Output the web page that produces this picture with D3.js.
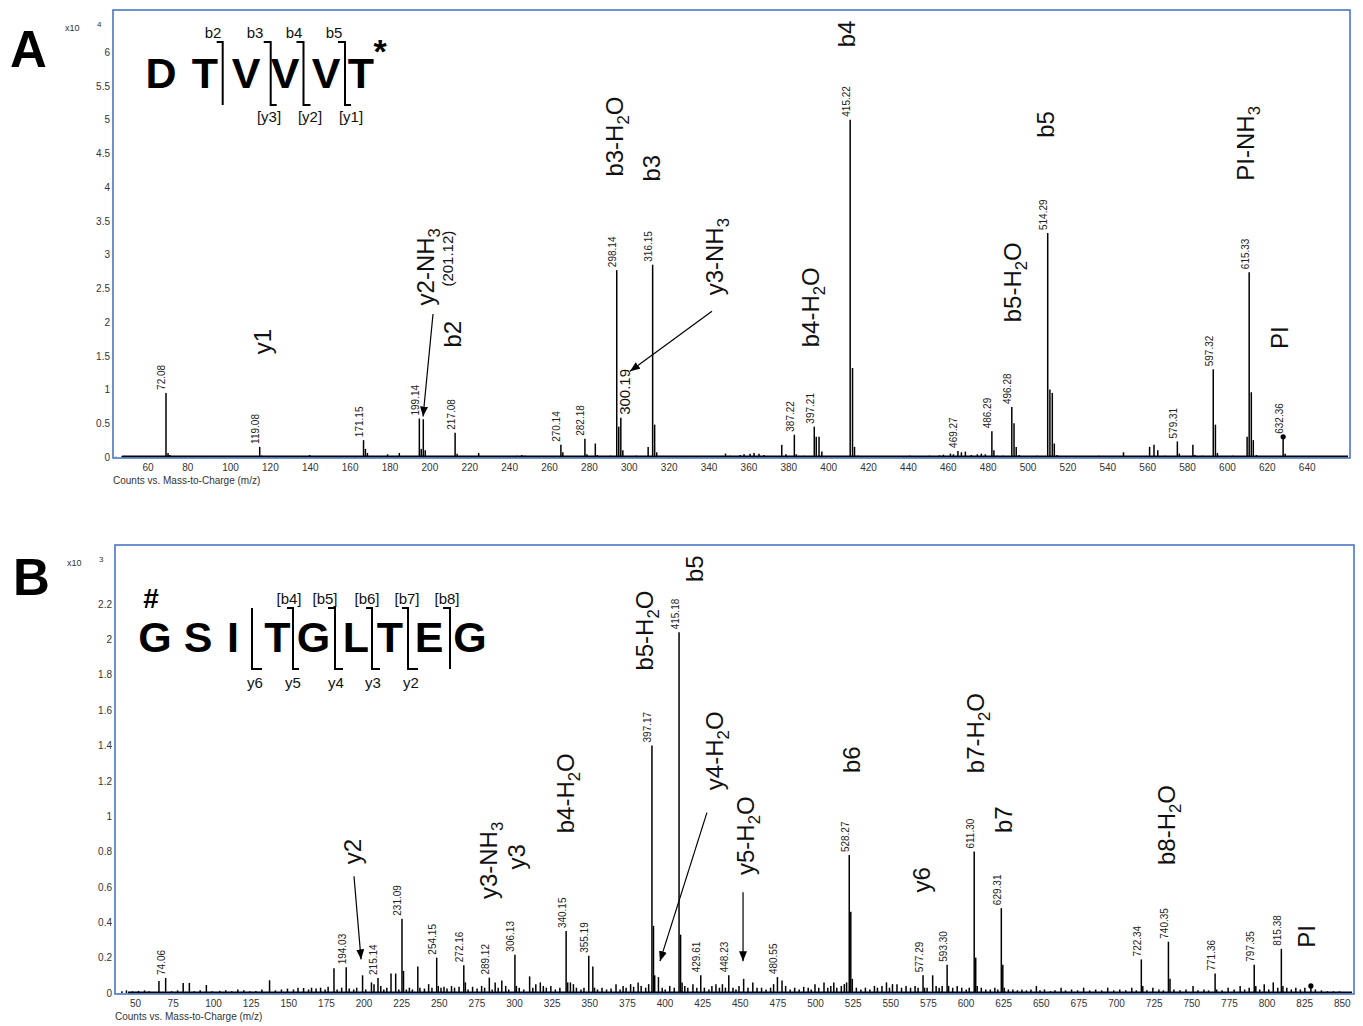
<!DOCTYPE html>
<html><head><meta charset="utf-8">
<script src="https://cdn.jsdelivr.net/npm/d3@7"></script>
<style>
body{margin:0;background:#fff}
svg{display:block}
text{font-family:"Liberation Sans",Arial,sans-serif}
</style>
</head><body>
<svg id="c" width="1363" height="1026"></svg>
<script>
// ---------------- DATA ----------------
// Panel A: peaks [m/z, counts x10^4]
const peaksA = [[47,0.005],[50,0.01],[53,0.008],[56,0.01],[59,0.008],[63,0.01],[66,0.008],[70,0.01],[72.08,0.95],[73.1,0.06],[74,0.03],[78,0.01],[85,0.008],[92,0.01],[100,0.008],[108,0.01],[114,0.008],[119.08,0.15],[120.1,0.02],[126,0.01],[133,0.008],[138,0.01],[144.1,0.03],[150,0.01],[156,0.01],[162,0.01],[171.15,0.25],[172.1,0.12],[173.1,0.06],[178,0.015],[183.2,0.04],[186,0.01],[189.1,0.06],[193,0.01],[199.14,0.57],[200.1,0.12],[201.12,0.56],[202.1,0.10],[205,0.01],[209,0.015],[214,0.01],[217.08,0.36],[218.1,0.05],[222,0.01],[228.9,0.06],[235,0.01],[242,0.01],[248,0.02],[250.5,0.03],[252,0.02],[258,0.01],[264,0.015],[270.14,0.18],[271.1,0.07],[275,0.015],[279,0.01],[282.18,0.27],[283.2,0.04],[287.4,0.20],[288.4,0.03],[292,0.015],[295,0.02],[298.14,2.77],[299.15,0.45],[300.19,0.58],[301.2,0.10],[304,0.015],[308,0.02],[313.9,0.15],[316.15,2.85],[317.15,0.48],[318.2,0.07],[322,0.01],[328,0.01],[335,0.01],[342,0.01],[348,0.01],[352.7,0.05],[355,0.02],[360,0.03],[362,0.04],[365,0.05],[367,0.06],[369.5,0.05],[372,0.03],[376,0.01],[380.9,0.18],[383,0.04],[387.22,0.33],[388.2,0.04],[392,0.02],[397.21,0.45],[398.2,0.30],[399.6,0.30],[401,0.08],[405,0.01],[408,0.015],[415.22,5.00],[416.4,1.32],[417.4,0.15],[419,0.02],[425,0.01],[432,0.01],[440,0.015],[445,0.02],[450,0.015],[455,0.02],[460,0.025],[462,0.035],[465.5,0.05],[467,0.04],[469.27,0.09],[471,0.07],[473,0.08],[476,0.03],[479,0.04],[481,0.05],[483,0.04],[486.29,0.38],[487.3,0.10],[489,0.02],[492,0.02],[496.28,0.74],[497.4,0.50],[498.5,0.15],[500,0.03],[504,0.01],[509,0.02],[514.29,3.32],[515.4,1.00],[516.6,0.95],[517.6,0.20],[519,0.03],[524,0.01],[530,0.01],[536,0.01],[540,0.02],[545,0.01],[552.3,0.07],[555,0.01],[560,0.01],[565.4,0.15],[567.6,0.18],[569.5,0.10],[573,0.02],[579.31,0.23],[580.3,0.05],[583,0.01],[587.1,0.18],[588.1,0.03],[592,0.02],[597.32,1.30],[598.4,0.48],[599.4,0.06],[603,0.01],[607,0.02],[614.3,0.30],[615.33,2.74],[616.4,0.96],[617.4,0.25],[619,0.03],[624,0.01],[632.36,0.30],[633.4,0.05],[637,0.01],[642,0.008],[648,0.008],[655,0.008],[660,0.008]];
const labelsA = [72.08,119.08,171.15,199.14,217.08,270.14,282.18,298.14,316.15,387.22,397.21,415.22,469.27,486.29,496.28,514.29,579.31,597.32,615.33,632.36];
const bigLabelA = [300.19];
const dotA = [632.36];
const xTicksA = [60,80,100,120,140,160,180,200,220,240,260,280,300,320,340,360,380,400,420,440,460,480,500,520,540,560,580,600,620,640];
const yTicksA = [0,0.5,1,1.5,2,2.5,3,3.5,4,4.5,5,5.5,6];
const annA = [
  {t:"y1",m:120.3,v:1.71},{t:"y2-NH_3",m:202.0,v:2.82},{t:"b2",m:215.5,v:1.82},
  {t:"b3-H_2O",m:296.8,v:4.75},{t:"b3",m:315.4,v:4.28},{t:"y3-NH_3",m:347.0,v:2.97},
  {t:"b4-H_2O",m:395.1,v:2.22},{t:"b4",m:413.2,v:6.27},{t:"b5-H_2O",m:496.4,v:2.59},
  {t:"b5",m:513.0,v:4.93},{t:"PI-NH_3",m:613.2,v:4.65},{t:"PI",m:630.3,v:1.77}];
const smallAnnA = [{t:"(201.12)",m:213.5,v:2.94}];
const arrowsA = [[206.0,2.12,201.0,0.60],[345.9,2.16,304.8,1.27]];
const seqA = ["D","T","V","V","V","T"];
const bA = ["b2","b3","b4","b5"];
const yA = ["[y3]","[y2]","[y1]"];

// Panel B: peaks [m/z, counts x10^3]
const peaksB = [[45,0.01],[48,0.015],[52,0.01],[56,0.012],[60,0.015],[63,0.01],[69.6,0.068],[74.06,0.085],[78,0.01],[82,0.015],[85.7,0.057],[89.8,0.057],[93,0.01],[97,0.015],[101.1,0.045],[105,0.01],[110,0.012],[114,0.015],[118,0.01],[122,0.02],[126,0.015],[130,0.01],[134,0.012],[138,0.02],[143.1,0.072],[147,0.015],[151,0.02],[155,0.025],[159,0.02],[162,0.03],[165.7,0.028],[169,0.02],[171,0.03],[174,0.025],[177,0.03],[180,0.02],[182,0.035],[185.9,0.14],[188,0.02],[191,0.03],[194.03,0.145],[196,0.025],[199,0.02],[201,0.03],[204.9,0.10],[207,0.02],[210.8,0.06],[212.5,0.05],[215.14,0.085],[217,0.04],[219,0.02],[221,0.03],[223.8,0.11],[226.9,0.11],[229,0.02],[231.09,0.42],[232.1,0.125],[234,0.02],[236,0.03],[238,0.02],[241.6,0.15],[243,0.03],[246,0.025],[248.8,0.05],[251,0.03],[254.15,0.20],[255.2,0.04],[257,0.03],[259,0.035],[261,0.025],[264,0.04],[266,0.03],[269,0.035],[272.16,0.157],[273.2,0.06],[275,0.02],[278,0.035],[281,0.025],[284,0.04],[286,0.03],[289.12,0.087],[291,0.02],[293,0.06],[295,0.03],[297.4,0.07],[300,0.04],[302,0.02],[306.13,0.217],[307.1,0.04],[309,0.03],[312,0.02],[315.9,0.094],[318,0.03],[320,0.05],[323,0.06],[325,0.04],[327,0.03],[330,0.04],[333,0.02],[336,0.03],[340.15,0.35],[341.2,0.06],[343,0.06],[345,0.05],[347,0.03],[350,0.02],[352,0.03],[355.19,0.21],[357.9,0.15],[359,0.03],[361,0.02],[364,0.03],[367,0.02],[370,0.025],[373.3,0.05],[376,0.02],[378,0.04],[380,0.03],[383,0.05],[385,0.035],[388,0.06],[390,0.04],[393,0.03],[395,0.05],[397.17,1.40],[398.2,0.38],[399,0.10],[401.5,0.09],[404,0.03],[406,0.02],[409,0.04],[412,0.03],[415.18,2.04],[416.2,0.33],[417.2,0.06],[419,0.04],[421,0.03],[424.4,0.05],[427,0.03],[429.61,0.10],[432,0.03],[435,0.02],[437,0.04],[439.7,0.05],[442,0.03],[444,0.05],[446,0.03],[448.23,0.10],[451,0.03],[453,0.02],[455,0.04],[458.1,0.08],[461,0.03],[464.2,0.06],[467,0.03],[470,0.03],[473,0.02],[476,0.03],[478,0.05],[480.55,0.09],[483.6,0.07],[486,0.04],[489,0.02],[492,0.03],[495,0.02],[498,0.035],[501,0.03],[503,0.02],[505.5,0.05],[508,0.03],[511.5,0.06],[514,0.03],[516,0.04],[518,0.06],[520,0.03],[523,0.04],[525,0.05],[526.5,0.06],[528.27,0.78],[529.3,0.46],[530.3,0.08],[533,0.03],[536,0.02],[539,0.03],[542,0.02],[545,0.04],[547,0.03],[550,0.04],[553,0.06],[555,0.03],[557,0.05],[560,0.05],[563,0.03],[566,0.04],[569,0.03],[572,0.04],[574,0.03],[577.29,0.10],[578.3,0.03],[580,0.03],[583.7,0.10],[586,0.04],[588,0.03],[590,0.04],[593.30,0.16],[594.3,0.04],[597,0.03],[600,0.04],[603,0.03],[606,0.02],[608,0.03],[611.30,0.80],[612.3,0.20],[613.3,0.04],[616,0.03],[619,0.02],[622,0.02],[625,0.03],[627,0.02],[629.31,0.48],[630.3,0.16],[631.3,0.03],[634,0.02],[637,0.02],[640,0.015],[643,0.02],[646,0.015],[649,0.02],[652.6,0.04],[655,0.015],[658,0.02],[662,0.01],[665,0.015],[669,0.03],[672,0.015],[676,0.02],[680,0.015],[684,0.03],[688,0.015],[692,0.02],[696,0.015],[700,0.03],[704,0.015],[708,0.02],[712,0.015],[716,0.03],[719,0.015],[722.34,0.19],[723.3,0.04],[726,0.015],[730,0.03],[734,0.02],[737,0.015],[740.35,0.29],[741.4,0.08],[744,0.02],[748,0.015],[752,0.02],[756.7,0.04],[760,0.015],[764,0.02],[767,0.015],[771.36,0.11],[772.4,0.02],[776,0.015],[780,0.03],[784,0.02],[788,0.04],[791,0.02],[794,0.03],[797.35,0.16],[798.4,0.04],[801,0.02],[804,0.05],[807,0.02],[810,0.06],[813,0.03],[815.38,0.25],[816.4,0.04],[819,0.03],[822,0.02],[825,0.03],[828,0.02],[831,0.03],[835,0.04],[838,0.02],[842,0.015],[846,0.01],[850,0.01],[854,0.01]];
const labelsB = [74.06,194.03,215.14,231.09,254.15,272.16,289.12,306.13,340.15,355.19,397.17,415.18,429.61,448.23,480.55,528.27,577.29,593.30,611.30,629.31,722.34,740.35,771.36,797.35,815.38];
const dotB = [835];
const xTicksB = [50,75,100,125,150,175,200,225,250,275,300,325,350,375,400,425,450,475,500,525,550,575,600,625,650,675,700,725,750,775,800,825,850];
const yTicksB = [0,0.2,0.4,0.6,0.8,1,1.2,1.4,1.6,1.8,2,2.2];
const annB = [
  {t:"y2",m:197.9,v:0.80},{t:"y3-NH_3",m:288.2,v:0.75},{t:"y3",m:306.8,v:0.77},
  {t:"b4-H_2O",m:339.4,v:1.13},{t:"b5-H_2O",m:391.9,v:2.05},{t:"b5",m:425.1,v:2.40},
  {t:"y4-H_2O",m:438.4,v:1.37},{t:"y5-H_2O",m:459.0,v:0.89},{t:"b6",m:529.4,v:1.32},
  {t:"y6",m:575.9,v:0.64},{t:"b7-H_2O",m:611.8,v:1.47},{t:"b7",m:630.4,v:0.98},
  {t:"b8-H_2O",m:738.7,v:0.95},{t:"PI",m:831.7,v:0.32}];
const arrowsB = [[199.2,0.66,203.9,0.19],[433.7,1.02,402.5,0.18],[457.7,0.57,457.7,0.18]];
const seqB = ["G","S","I","T","G","L","T","E","G"];
const bB = ["[b4]","[b5]","[b6]","[b7]","[b8]"];
const yB = ["y6","y5","y4","y3","y2"];

// ---------------- DRAW ----------------
const svg = d3.select("#c");
const FONT = "'Liberation Sans', Arial, sans-serif";
svg.append("defs").append("marker").attr("id","arr").attr("viewBox","0 0 10 8")
  .attr("refX",10).attr("refY",4).attr("markerWidth",10).attr("markerHeight",8)
  .attr("markerUnits","userSpaceOnUse").attr("orient","auto")
  .append("path").attr("d","M0,0L10,4L0,8Z").attr("fill","#000");

function richText(sel, s){
  const parts = s.split("_");
  sel.append("tspan").text(parts[0]);
  for (let i=1;i<parts.length;i++){
    sel.append("tspan").attr("baseline-shift","sub").attr("font-size","70%").text(parts[i][0]);
    if (parts[i].length>1) sel.append("tspan").text(parts[i].slice(1));
  }
}

function drawPanel(o){
  const g = svg.append("g");
  const x = d3.scaleLinear().domain(o.xd).range([o.L,o.R]);
  const y = d3.scaleLinear().domain([0,o.ymax]).range([o.B,o.T]);
  const val = m => { const p=o.peaks.find(d=>Math.abs(d[0]-m)<0.001); return p?p[1]:0; };

  g.append("line").attr("x1",x(o.baseStart)).attr("x2",o.R-2)
    .attr("y1",y(0)-0.5).attr("y2",y(0)-0.5).attr("stroke","#000").attr("stroke-width",1.8);
  g.append("g").selectAll("line").data(o.peaks).join("line")
    .attr("x1",d=>x(d[0])).attr("x2",d=>x(d[0]))
    .attr("y1",y(0)).attr("y2",d=>y(d[1]))
    .attr("stroke","#000").attr("stroke-width",1.5);
  g.append("g").selectAll("circle").data(o.dots).join("circle")
    .attr("cx",d=>x(d)).attr("cy",d=>y(val(d))).attr("r",2.6).attr("fill","#000");
  g.append("rect").attr("x",o.L).attr("y",o.T).attr("width",o.R-o.L).attr("height",o.B+1-o.T)
    .attr("fill","none").attr("stroke","#4a76c4").attr("stroke-width",1.6);

  const xa = g.append("g").attr("transform",`translate(0,${o.B+1})`)
    .call(d3.axisBottom(x).tickValues(o.xt).tickSize(0).tickPadding(6));
  xa.select(".domain").remove();
  xa.attr("font-family",FONT).attr("font-size",10);
  xa.selectAll("text").attr("text-anchor","start").attr("fill","#333");
  const ya = g.append("g").attr("transform",`translate(${o.L},0)`)
    .call(d3.axisLeft(y).tickValues(o.yt).tickSize(0).tickPadding(3).tickFormat(d3.format("")));
  ya.select(".domain").remove();
  ya.attr("font-family",FONT).attr("font-size",10);
  ya.selectAll("text").attr("fill","#333");

  g.append("text").attr("x",o.L).attr("y",o.B+27).attr("font-size",10).attr("fill","#333")
    .text("Counts vs. Mass-to-Charge (m/z)");
  g.append("text").attr("x",o.L-48).attr("y",o.T+21).attr("font-size",9).attr("fill","#333").text("x10");
  g.append("text").attr("x",o.L-16).attr("y",o.T+17).attr("font-size",8).attr("fill","#333").text(o.exp);

  g.append("g").selectAll("text").data(o.labels).join("text")
    .attr("transform",d=>`translate(${x(d)-4},${y(val(d))-3}) rotate(-90)`)
    .attr("text-anchor","start").attr("dominant-baseline","central")
    .attr("font-size",10).attr("fill","#222").text(d=>d.toFixed(2));
  g.append("g").selectAll("text").data(o.bigLabels||[]).join("text")
    .attr("transform",d=>`translate(${x(d)+4},${y(val(d))-3}) rotate(-90)`)
    .attr("text-anchor","start").attr("dominant-baseline","central")
    .attr("font-size",15).attr("fill","#111").text(d=>d.toFixed(2));

  o.ann.forEach(a=>{
    const t = g.append("text").attr("transform",`translate(${x(a.m)},${y(a.v)}) rotate(-90)`)
      .attr("text-anchor","middle").attr("dominant-baseline","central")
      .attr("font-size",24).attr("fill","#111");
    richText(t,a.t);
  });
  (o.smallAnn||[]).forEach(a=>{
    g.append("text").attr("transform",`translate(${x(a.m)},${y(a.v)}) rotate(-90)`)
      .attr("text-anchor","middle").attr("dominant-baseline","central")
      .attr("font-size",15).attr("fill","#111").text(a.t);
  });
  g.append("g").selectAll("line").data(o.arrows).join("line")
    .attr("x1",d=>x(d[0])).attr("y1",d=>y(d[1])).attr("x2",d=>x(d[2])).attr("y2",d=>y(d[3]))
    .attr("stroke","#000").attr("stroke-width",1.2).attr("marker-end","url(#arr)");

  svg.append("text").attr("x",o.letterX).attr("y",o.letterY).attr("font-size",51)
    .attr("font-weight","bold").attr("fill","#000").text(o.letter);
}

drawPanel({L:113,R:1350,T:10,B:457,xd:[45.5,665.9],ymax:6.626,peaks:peaksA,labels:labelsA,
  bigLabels:bigLabelA,dots:dotA,xt:xTicksA,yt:yTicksA,ann:annA,smallAnn:smallAnnA,arrows:arrowsA,
  baseStart:50,exp:"4",letter:"A",letterX:10,letterY:67});
drawPanel({L:115,R:1354,T:545,B:993,xd:[40.4,863.65],ymax:2.534,peaks:peaksB,labels:labelsB,
  dots:dotB,xt:xTicksB,yt:yTicksB,ann:annB,arrows:arrowsB,
  baseStart:49,exp:"3",letter:"B",letterX:13,letterY:595});

// ---------------- sequence insets ----------------
function seqInset(o){
  const g = svg.append("g");
  g.selectAll("text.aa").data(o.seq).join("text").attr("class","aa")
    .attr("x",(d,i)=>o.cx[i]).attr("y",o.base).attr("text-anchor","middle")
    .attr("font-size",43).attr("font-weight","bold").attr("fill","#000").text(d=>d);
  o.cuts.forEach(c=>{
    let d = "";
    if (c.top) d += `M${c.x-c.top},${o.top}L${c.x},${o.top}`; else d += `M${c.x},${o.top}`;
    d += `L${c.x},${o.bot}`;
    if (c.bot) d += `L${c.x+c.bot},${o.bot}`;
    g.append("path").attr("d",d).attr("fill","none").attr("stroke","#000").attr("stroke-width",2);
  });
  g.selectAll("text.bl").data(o.bl).join("text").attr("class","bl")
    .attr("x",(d,i)=>o.blx[i]).attr("y",o.bly).attr("text-anchor","middle")
    .attr("font-size",15).attr("fill","#111").text(d=>d);
  g.selectAll("text.yl").data(o.yl).join("text").attr("class","yl")
    .attr("x",(d,i)=>o.ylx[i]).attr("y",o.yly).attr("text-anchor","middle")
    .attr("font-size",15).attr("fill","#111").text(d=>d);
  if (o.extra) g.append("text").attr("x",o.extra.x).attr("y",o.extra.y).attr("font-size",o.extra.s)
    .attr("font-weight","bold").attr("text-anchor","middle").text(o.extra.t);
}
seqInset({seq:seqA,cx:[161,205,246,285,326,361],base:88,top:42,bot:105,
  cuts:[{x:222.7,top:6,bot:0},{x:270.7,top:7,bot:6},{x:303.5,top:7,bot:7},{x:345,top:7,bot:6}],
  bl:bA,blx:[213,255,294,334],bly:38,yl:yA,ylx:[269,310,351],yly:122,
  extra:{t:"*",x:380,y:63,s:34}});
seqInset({seq:seqB,cx:[155,198,233,277.5,313.5,356,390,429,470],base:652,top:608,bot:669,
  cuts:[{x:252,top:0,bot:10},{x:293,top:6,bot:6},{x:335,top:7,bot:8},{x:372,top:6,bot:8},{x:408,top:6,bot:10},{x:450,top:7,bot:0}],
  bl:bB,blx:[289,325,367,407,447],bly:604,yl:yB,ylx:[255,293,336,373,411],yly:688,
  extra:{t:"#",x:151,y:608,s:28}});
</script>
</body></html>
